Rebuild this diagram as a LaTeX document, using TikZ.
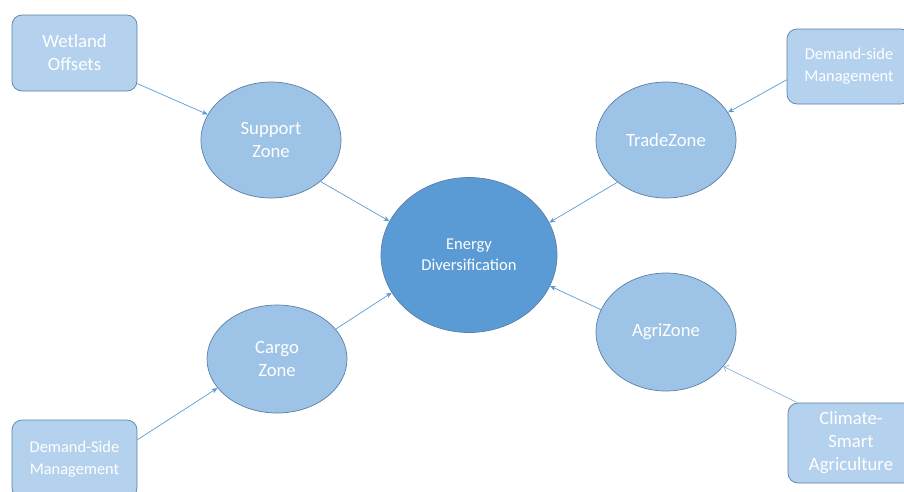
\documentclass[tikz,border=0pt]{standalone}
\usepackage{fontspec}
\setmainfont{Carlito}
\usetikzlibrary{arrows.meta,shapes.geometric}

\definecolor{zonefill}{HTML}{9DC3E6}
\definecolor{corefill}{HTML}{5B9BD5}
\definecolor{boxfill}{HTML}{B4D1EE}
\definecolor{edge}{HTML}{5B7FA6}
\definecolor{link}{HTML}{5B9BD5}
\definecolor{softlink}{HTML}{8EB4DE}

\tikzset{
  zone/.style={ellipse, draw=edge, line width=0.7pt, fill=zonefill, text=white,
    inner sep=0pt, minimum width=140pt, align=center,
    font=\fontsize{18.7}{23}\selectfont},
  core/.style={ellipse, draw=edge, line width=0.7pt, fill=corefill, text=white,
    inner sep=0pt, minimum width=176pt, minimum height=155pt, align=center,
    font=\fontsize{16.5}{20.7}\selectfont},
  sourcebox/.style={rectangle, rounded corners=10pt, draw=edge, line width=0.7pt,
    fill=boxfill, text=white, inner sep=0pt, align=center},
  bigtext/.style={font=\fontsize{18.7}{23}\selectfont},
  smalltext/.style={font=\fontsize{16.4}{21.7}\selectfont},
  feed/.style={draw=link, line width=0.7pt, -{Stealth[length=6pt,width=5pt]}},
  softfeed/.style={draw=softlink, line width=0.7pt, -{Straight Barb[length=4pt,width=7pt]}}
}

\begin{document}
\begin{tikzpicture}[x=1pt,y=-1pt]
  \useasboundingbox (0,0) rectangle (904,491);

  % central goal
  \node[core] (en) at (469,255) {Energy\\Diversification};

  % zones around it
  \node[zone, minimum height=116pt] (sz) at (271,140) {Support\\Zone};
  \node[zone, minimum height=116pt] (tz) at (666,140) {TradeZone};
  \node[zone, minimum height=108pt] (cz) at (277,359) {Cargo\\Zone};
  \node[zone, minimum height=118pt] (az) at (666,332) {AgriZone};

  % measures feeding each zone
  \node[sourcebox, bigtext, minimum width=125pt, minimum height=76pt] (wo) at (74.5,53) {Wetland\\Offsets};
  \node[sourcebox, smalltext, minimum width=124pt, minimum height=75pt] (dst) at (849,66.5) {Demand-side\\Management};
  \node[sourcebox, smalltext, minimum width=125pt, minimum height=78pt] (dsb) at (74.5,459) {Demand-Side\\Management};
  \node[sourcebox, bigtext, minimum width=126pt, minimum height=80pt] (csa) at (851,443) {Climate-\\Smart\\Agriculture};

  % connectors
  \draw[feed] (wo.-26) -- (sz.158);
  \draw[feed] (dst.192.5) -- (tz.24);
  \draw[feed] (dsb.17.7) -- (cz.206);
  \draw[softfeed] (csa.143.5) -- (az.-31);

  \draw[feed] (sz.-40) -- (en.157.6);
  \draw[feed] (tz.221) -- (en.22.4);
  \draw[feed] (cz.27.7) -- (en.206);
  \draw[feed] (az.161) -- (en.-21);
\end{tikzpicture}
\end{document}
